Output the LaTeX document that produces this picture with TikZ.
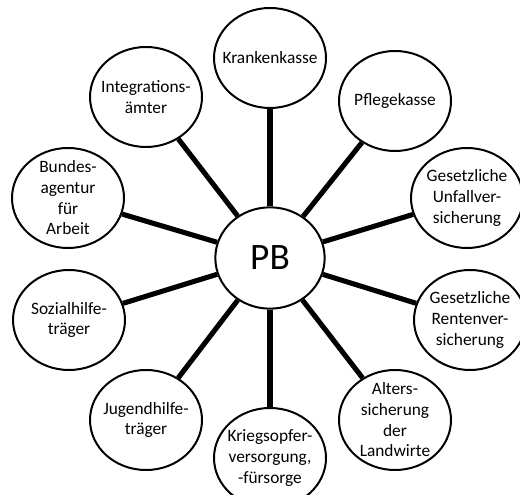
\documentclass[tikz,border=0pt]{standalone}
\usepackage{fontspec}
\setmainfont{Carlito}
\usetikzlibrary{shapes.geometric}

\tikzset{
  traeger/.style={draw,ellipse,line width=1.5pt,minimum width=84pt,minimum height=75pt,
    inner sep=0pt,label={[align=center,font=\fontsize{13}{15.5}\selectfont]center:#1}},
  mitte/.style={draw,ellipse,line width=1.5pt,minimum width=82pt,minimum height=76pt,
    inner sep=0pt,font=\fontsize{28}{30}\selectfont},
  verb/.style={line width=3.8pt}
}

\begin{document}
\begin{tikzpicture}[x=0.75pt,y=0.75pt]
  \useasboundingbox (0,0) rectangle (520,495);
  \node[mitte] (pb) at (270,237) {PB};
  \node[traeger={Krankenkasse}] (kk) at (270,437) {};
  \node[traeger={Pflegekasse}] (pk) at (395,394) {};
  \node[traeger={Gesetzliche\\Unfallver-\\sicherung}] (guv) at (467,297) {};
  \node[traeger={Gesetzliche\\Rentenver-\\sicherung}] (grv) at (470,175) {};
  \node[traeger={Alters-\\sicherung\\der\\Landwirte}] (alg) at (395,75) {};
  \node[traeger={Kriegsopfer-\\versorgung,\\-fürsorge}] (kov) at (270,37) {};
  \node[traeger={Jugendhilfe-\\träger}] (jhl) at (146,75) {};
  \node[traeger={Sozialhilfe-\\träger}] (shl) at (69,175) {};
  \node[traeger={Bundes-\\agentur\\für\\Arbeit}] (ba) at (68,297) {};
  \node[traeger={Integrations-\\ämter}] (ia) at (146,398) {};
  \foreach \n in {kk,pk,guv,grv,alg,kov,jhl,shl,ba,ia}
    \draw[verb] (\n) -- (pb);
\end{tikzpicture}
\end{document}
